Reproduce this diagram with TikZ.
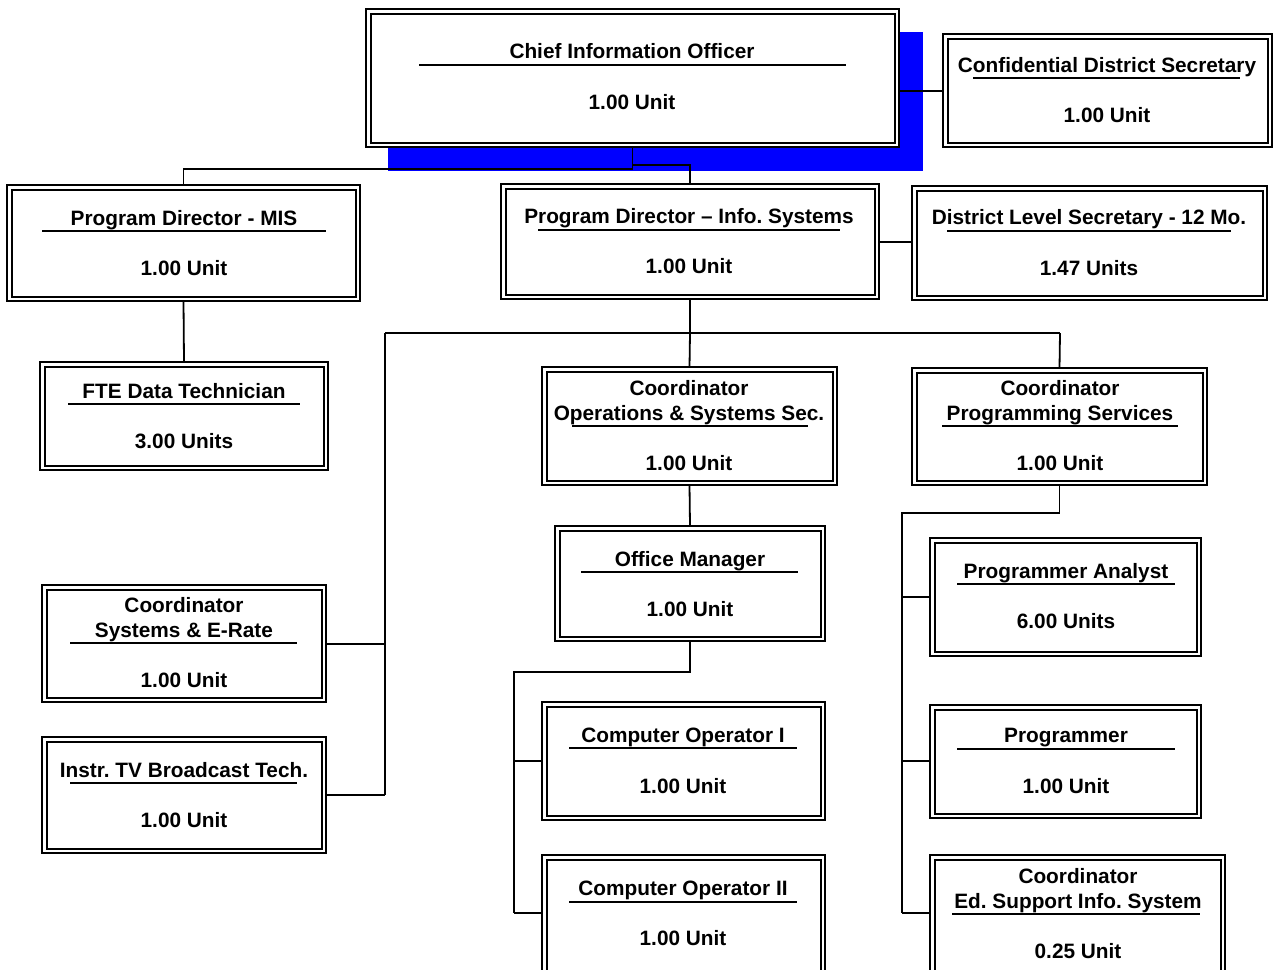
\documentclass[tikz,border=0pt]{standalone}
\usepackage{fontspec}
\setmainfont{Liberation Sans}
\tikzset{
  box/.style={draw, line width=1.3pt, fill=white, outer sep=0pt, inner sep=0pt},
  inbox/.style={line width=2pt},
  ttl/.style={anchor=base, inner sep=0pt, font=\bfseries\fontsize{20.8}{24}\selectfont},
  uline/.style={line width=1.4pt},
  conn/.style={line width=1.8pt},
}
\newcommand\orgbox[5]{%
  \node[box, minimum width={#4pt-#2pt}, minimum height={#5pt-#3pt}] (#1) at ({(#2+#4)/2},{(#3+#5)/2}) {};
  \draw[inbox] ([xshift=4.5pt,yshift=-4.5pt]#1.north west) rectangle ([xshift=-4.5pt,yshift=4.5pt]#1.south east);
}
\begin{document}
\frenchspacing
\begin{tikzpicture}[x=1pt,y=-1pt]
\useasboundingbox (0,0) rectangle (1273,969);
\clip (0,0) rectangle (1273,969);
\fill[white] (0,0) rectangle (1273,969);
% shadow
\fill[blue] (388,32) rectangle (923,171);
% boxes
\orgbox{cio}{366}{9}{899}{147}
\orgbox{conf}{943}{34}{1272}{147}
\orgbox{pdmis}{7}{185}{360}{301}
\orgbox{pdis}{501}{184}{879}{299}
\orgbox{dls}{912}{186}{1267}{300}
\orgbox{fte}{40}{362}{328}{470}
\orgbox{cos}{542}{367}{837}{485}
\orgbox{cps}{912}{368}{1207}{485}
\orgbox{om}{555}{526}{825}{641}
\orgbox{coa}{542}{702}{825}{820}
\orgbox{cob}{542}{855}{825}{975}
\orgbox{cse}{42}{585}{326}{702}
\orgbox{itv}{42}{737}{326}{853}
\orgbox{pa}{930}{538}{1201}{656}
\orgbox{prg}{930}{705}{1201}{818}
\orgbox{ces}{930}{855}{1225}{975}
% texts
\node[ttl] (cio-t) at (632,58) {Chief Information Officer};
\draw[uline] (419,65) -- (846,65);
\node[ttl] (cio-u) at (632,109) {1.00 Unit};

\node[ttl] (conf-t) at (1107,72) {Confidential District Secretary};
\draw[uline] (973,78) -- (1240,78);
\node[ttl] (conf-u) at (1107,122) {1.00 Unit};

\node[ttl] (pdmis-t) at (184,225) {Program Director - MIS};
\draw[uline] (42,231) -- (326,231);
\node[ttl] (pdmis-u) at (184,275) {1.00 Unit};

\node[ttl] (pdis-t) at (689,223) {Program Director – Info. Systems};
\draw[uline] (538,230) -- (840,230);
\node[ttl] (pdis-u) at (689,273) {1.00 Unit};

\node[ttl] (dls-t) at (1089,224) {District Level Secretary - 12 Mo.};
\draw[uline] (947,231) -- (1231,231);
\node[ttl] (dls-u) at (1089,275) {1.47 Units};

\node[ttl] (fte-t) at (184,398) {FTE Data Technician};
\draw[uline] (68,404) -- (300,404);
\node[ttl] (fte-u) at (184,448) {3.00 Units};

\node[ttl] (cos-a) at (689,395) {Coordinator};
\node[ttl] (cos-b) at (689,420) {Operations \& Systems Sec.};
\draw[uline] (572,426) -- (808,426);
\node[ttl] (cos-u) at (689,470) {1.00 Unit};

\node[ttl] (cps-a) at (1060,395) {Coordinator};
\node[ttl] (cps-b) at (1060,420) {Programming Services};
\draw[uline] (942,426) -- (1178,426);
\node[ttl] (cps-u) at (1060,470) {1.00 Unit};

\node[ttl] (om-t) at (690,566) {Office Manager};
\draw[uline] (581,572) -- (798,572);
\node[ttl] (om-u) at (690,616) {1.00 Unit};

\node[ttl] (coa-t) at (683,742) {Computer Operator I};
\draw[uline] (569,748) -- (797,748);
\node[ttl] (coa-u) at (683,793) {1.00 Unit};

\node[ttl] (cob-t) at (683,895) {Computer Operator II};
\draw[uline] (569,902) -- (797,902);
\node[ttl] (cob-u) at (683,945) {1.00 Unit};

\node[ttl] (cse-a) at (184,612) {Coordinator};
\node[ttl] (cse-b) at (184,637) {Systems \& E-Rate};
\draw[uline] (70,643) -- (297,643);
\node[ttl] (cse-u) at (184,687) {1.00 Unit};

\node[ttl] (itv-t) at (184,777) {Instr. TV Broadcast Tech.};
\draw[uline] (70,783) -- (297,783);
\node[ttl] (itv-u) at (184,827) {1.00 Unit};

\node[ttl] (pa-t) at (1066,578) {Programmer Analyst};
\draw[uline] (957,584) -- (1175,584);
\node[ttl] (pa-u) at (1066,628) {6.00 Units};

\node[ttl] (prg-t) at (1066,742) {Programmer};
\draw[uline] (957,749) -- (1175,749);
\node[ttl] (prg-u) at (1066,793) {1.00 Unit};

\node[ttl] (ces-a) at (1078,883) {Coordinator};
\node[ttl] (ces-b) at (1078,908) {Ed. Support Info. System};
\draw[uline] (952,914) -- (1200,914);
\node[ttl] (ces-u) at (1078,958) {0.25 Unit};

% connectors
\coordinate (j1) at (632.5,169);
\coordinate (j2) at (632.5,165);
\draw[conn] (cio.south) -- (j1) -| (pdmis.north);
\draw[conn] (j2) -| (pdis.north);
\draw[conn] (cio.east |- 0,91) -- (conf.west |- 0,91);
\draw[conn] (pdis.east |- 0,242) -- (dls.west |- 0,242);
\draw[conn] (pdmis.south) -- (fte.north);
\coordinate (bus) at (690,333);
\coordinate (busl) at (385,333);
\coordinate (busr) at (1060,333);
\draw[conn] (pdis.south) -- (bus);
\draw[conn] (busl) -- (busr);
\draw[conn] (bus) -- (cos.north);
\draw[conn] (busr) -- (cps.north);
\draw[conn] (busl) -- (385,795);
\draw[conn] (cse.east |- 0,644) -- (385,644);
\draw[conn] (itv.east |- 0,795) -- (385,795);
\draw[conn] (cos.south) -- (om.north);
\coordinate (omj) at (514,672);
\draw[conn] (om.south) |- (omj) -- (514,913);
\draw[conn] (514,761) -- (coa.west |- 0,761);
\draw[conn] (514,913) -- (cob.west |- 0,913);
\coordinate (cpj) at (902,513);
\draw[conn] (cps.south) |- (cpj) -- (902,913);
\draw[conn] (902,597) -- (pa.west |- 0,597);
\draw[conn] (902,761) -- (prg.west |- 0,761);
\draw[conn] (902,913) -- (ces.west |- 0,913);
\end{tikzpicture}
\end{document}
